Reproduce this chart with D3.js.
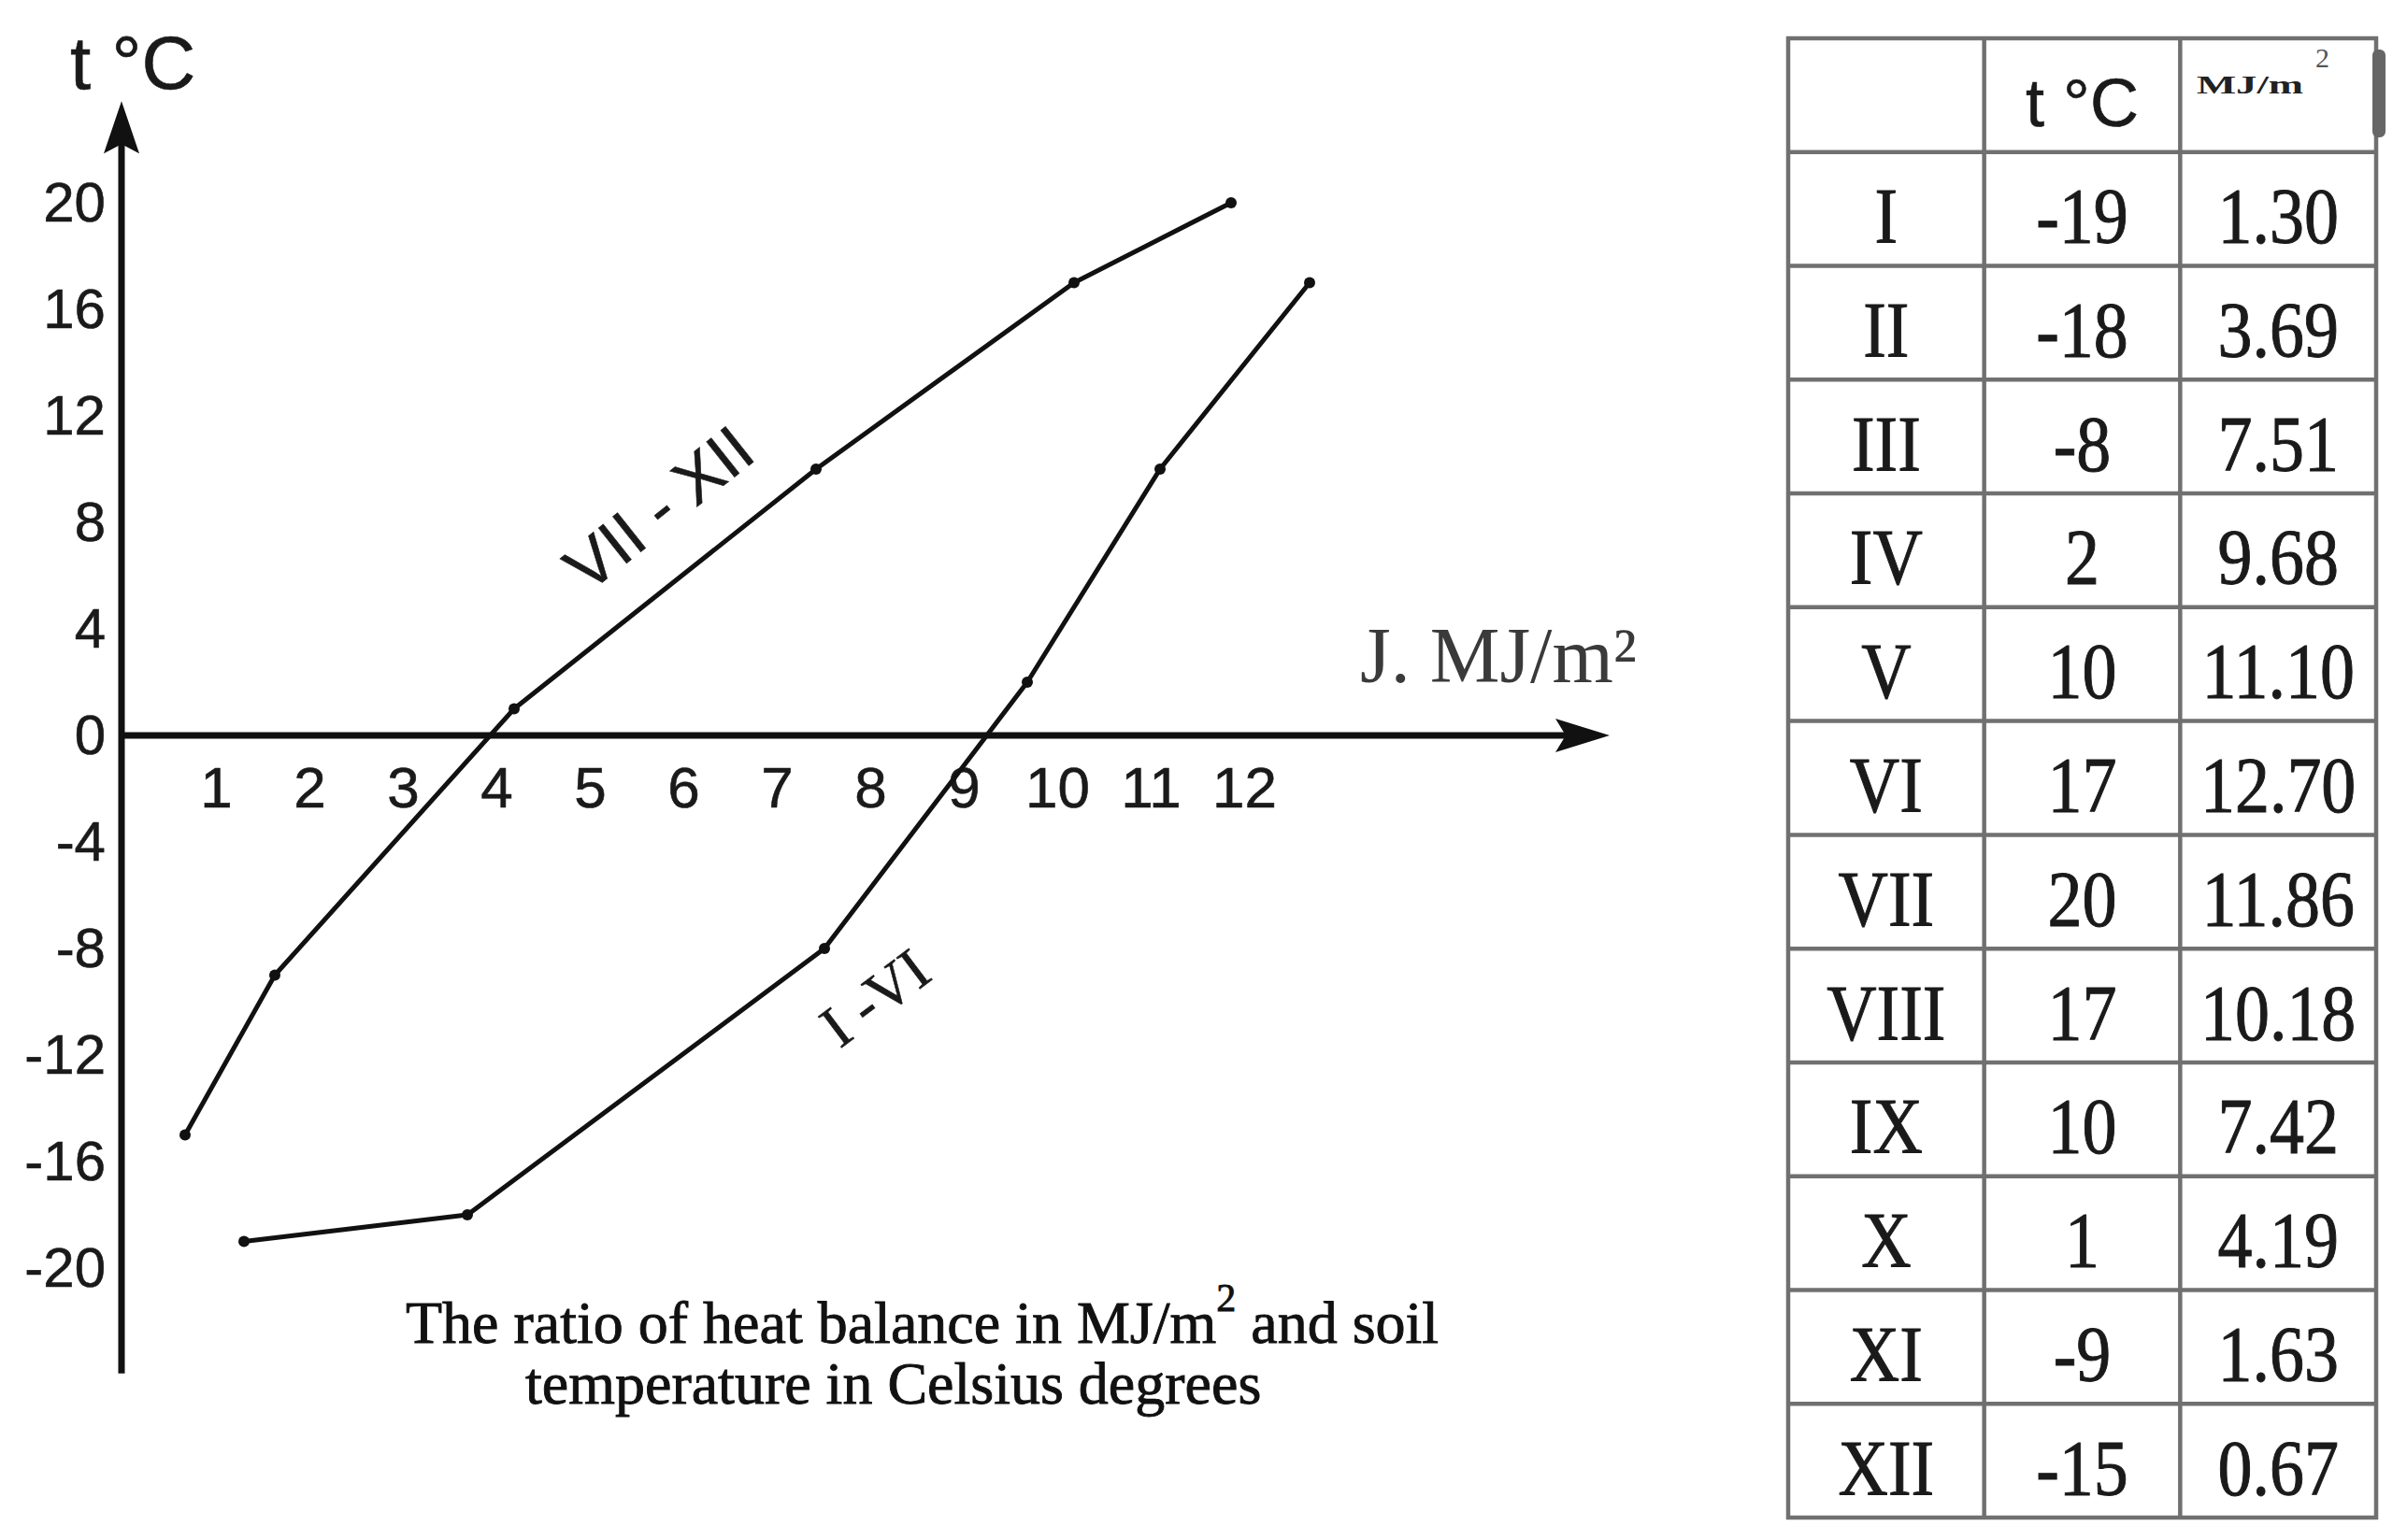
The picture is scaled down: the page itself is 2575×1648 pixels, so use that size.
<!DOCTYPE html>
<html><head><meta charset="utf-8">
<script src="https://cdn.jsdelivr.net/npm/d3@7"></script>
<style>html,body{margin:0;padding:0;background:#fff;} svg{display:block;}</style>
</head><body>
<svg id="chart" width="2575" height="1648"></svg>
<script>
// ---------- data ----------
const months = ["I","II","III","IV","V","VI","VII","VIII","IX","X","XI","XII"];
const temperature = [-19,-18,-8,2,10,17,20,17,10,1,-9,-15];
const heatBalance = [1.30,3.69,7.51,9.68,11.10,12.70,11.86,10.18,7.42,4.19,1.63,0.67];
const seriesNames = ["I -VI","VII - XII"];
const seriesMonths = [["I","II","III","IV","V","VI"],["VII","VIII","IX","X","XI","XII"]];
const xTicks = [1,2,3,4,5,6,7,8,9,10,11,12];
const yTicks = [20,16,12,8,4,0,-4,-8,-12,-16,-20];
const yAxisTitle = "t °C";
const xAxisTitle = "J. MJ/m²";
const tableHeaders = ["", "t °C", "MJ/m"];
const captionLine1 = ["The ratio of heat balance in MJ/m", "2", " and soil"];
const captionLine2 = "temperature in Celsius degrees";

// ---------- layout ----------
const SANS = "'Liberation Sans', Arial, sans-serif";
const SERIF = "'Liberation Serif', 'Times New Roman', serif";
const INK = "#111";
const svg = d3.select("#chart");

const x = d3.scaleLinear().domain([0, 12]).range([131, 1331]);
const y = d3.scaleLinear().domain([0, 20]).range([787, 217]);

// axes (labels via d3 axes)
const yAxisG = svg.append("g").attr("transform", "translate(130,0)")
  .call(d3.axisLeft(y).tickValues(yTicks).tickSize(0).tickPadding(17).tickFormat(d => String(d)));
yAxisG.select(".domain").remove();
yAxisG.selectAll("text").attr("font-family", SANS).attr("font-size", 60).attr("fill", "#1a1a1a")
  .attr("stroke", "#1a1a1a").attr("stroke-width", 0.6);

const xAxisG = svg.append("g").attr("transform", `translate(0,${y(0)})`)
  .call(d3.axisBottom(x).tickValues(xTicks).tickSize(0).tickPadding(33).tickFormat(d => String(d)));
xAxisG.select(".domain").remove();
xAxisG.selectAll("text").attr("font-family", SANS).attr("font-size", 62).attr("fill", "#1a1a1a")
  .attr("stroke", "#1a1a1a").attr("stroke-width", 0.6);

// axis lines with arrows
const yTop = y(23.82), yBottom = y(-23.96);
const xRight = x(15.91);
svg.append("line").attr("x1", 130).attr("x2", 130).attr("y1", yTop + 30).attr("y2", yBottom)
  .attr("stroke", INK).attr("stroke-width", 7);
svg.append("line").attr("x1", 127).attr("x2", xRight - 30).attr("y1", y(0)).attr("y2", y(0))
  .attr("stroke", INK).attr("stroke-width", 7);
svg.append("path")
  .attr("d", `M130,${yTop} L${130 - 19},${yTop + 56} L130,${yTop + 46} L${130 + 19},${yTop + 56} Z`)
  .attr("fill", INK);
svg.append("path")
  .attr("d", `M${xRight},${y(0)} L${xRight - 58},${y(0) - 18} L${xRight - 47},${y(0)} L${xRight - 58},${y(0) + 18} Z`)
  .attr("fill", INK);

// axis titles
svg.append("text").attr("x", 75).attr("y", 95).attr("font-family", SANS).attr("font-size", 80)
  .attr("fill", "#1a1a1a").attr("stroke", "#1a1a1a").attr("stroke-width", 0.6).text(yAxisTitle);
svg.append("text").attr("x", 1455).attr("y", 730).attr("font-family", SERIF).attr("font-size", 84)
  .attr("fill", "#3a3a3a").text(xAxisTitle);

// series lines + dots
const line = d3.line()
  .x(m => x(heatBalance[months.indexOf(m)]))
  .y(m => y(temperature[months.indexOf(m)]));
svg.append("g").selectAll("path").data(seriesMonths).join("path")
  .attr("d", line).attr("fill", "none").attr("stroke", INK).attr("stroke-width", 5)
  .attr("stroke-linejoin", "round");
svg.append("g").selectAll("circle").data(months).join("circle")
  .attr("cx", m => x(heatBalance[months.indexOf(m)]))
  .attr("cy", m => y(temperature[months.indexOf(m)]))
  .attr("r", 6).attr("fill", INK);

// series labels (anchored in data coordinates)
const labelAnchor = [[8.18, -10.45], [5.89, 7.86]];
const labelStyle = [
  {angle: -37, family: SERIF, size: 64},
  {angle: -38.6, family: SANS, size: 70}
];
svg.append("g").selectAll("text").data(seriesNames).join("text")
  .attr("transform", (d, i) => `translate(${x(labelAnchor[i][0])},${y(labelAnchor[i][1])}) rotate(${labelStyle[i].angle})`)
  .attr("text-anchor", "middle")
  .attr("font-family", (d, i) => labelStyle[i].family)
  .attr("font-size", (d, i) => labelStyle[i].size)
  .attr("fill", "#1a1a1a").attr("stroke", "#1a1a1a").attr("stroke-width", 0.6)
  .text(d => d);

// caption
const cap1 = svg.append("text").attr("x", 434).attr("y", 1437).attr("font-family", SERIF)
  .attr("font-size", 64).attr("fill", INK).attr("stroke", INK).attr("stroke-width", 0.9);
cap1.append("tspan").text(captionLine1[0]);
cap1.append("tspan").attr("dy", -34).attr("font-size", 42).text(captionLine1[1]);
cap1.append("tspan").attr("dy", 34).text(captionLine1[2]);
svg.append("text").attr("x", 562).attr("y", 1502).attr("font-family", SERIF)
  .attr("font-size", 64).attr("fill", INK).attr("stroke", INK).attr("stroke-width", 0.9).text(captionLine2);

// ---------- table ----------
const rowKeys = ["header"].concat(months);
const rowBand = d3.scaleBand().domain(rowKeys).range([41, 1624]);
const colBand = d3.scaleBand().domain(["month", "temp", "heat"]).range([1913, 2542]);
const tbl = svg.append("g");
const GRID = "#707070";
tbl.selectAll("line.h").data(rowKeys.concat(["end"])).join("line")
  .attr("x1", 1911).attr("x2", 2544)
  .attr("y1", (d, i) => 41 + i * rowBand.bandwidth())
  .attr("y2", (d, i) => 41 + i * rowBand.bandwidth())
  .attr("stroke", GRID).attr("stroke-width", 4.5);
tbl.selectAll("line.v").data([0, 1, 2, 3]).join("line")
  .attr("x1", i => 1913 + i * colBand.bandwidth()).attr("x2", i => 1913 + i * colBand.bandwidth())
  .attr("y1", 39).attr("y2", 1626)
  .attr("stroke", GRID).attr("stroke-width", 4.5);
tbl.append("rect").attr("x", 2538).attr("y", 53).attr("width", 14).attr("height", 94).attr("rx", 6)
  .attr("fill", "#666");

const colCenter = k => colBand(k) + colBand.bandwidth() / 2;
tbl.append("text").attr("x", colCenter("temp")).attr("y", rowBand("header") + 94)
  .attr("text-anchor", "middle").attr("font-family", SANS).attr("font-size", 72).attr("fill", "#1a1a1a")
  .attr("stroke", "#1a1a1a").attr("stroke-width", 0.6)
  .text(tableHeaders[1]);
tbl.append("text").attr("x", 2350).attr("y", 100).attr("font-family", SERIF).attr("font-weight", "bold")
  .attr("font-size", 28).attr("textLength", 114).attr("lengthAdjust", "spacingAndGlyphs")
  .attr("fill", "#222").text(tableHeaders[2]);
tbl.append("text").attr("x", 2477).attr("y", 72).attr("font-family", SERIF).attr("font-size", 30)
  .attr("fill", "#555").text("2");

const cells = [];
months.forEach((m, i) => {
  cells.push({row: m, col: "month", text: m});
  cells.push({row: m, col: "temp", text: String(temperature[i])});
  cells.push({row: m, col: "heat", text: heatBalance[i].toFixed(2)});
});
tbl.selectAll("text.cell").data(cells).join("text")
  .attr("class", "cell")
  .attr("transform", d => `translate(${colCenter(d.col)},${rowBand(d.row) + rowBand.bandwidth() * 0.8}) scale(0.88,1)`)
  .attr("text-anchor", "middle")
  .attr("font-family", SERIF).attr("font-size", 84).attr("fill", "#1a1a1a")
  .attr("stroke", "#1a1a1a").attr("stroke-width", 1)
  .text(d => d.text);
</script>
</body></html>
